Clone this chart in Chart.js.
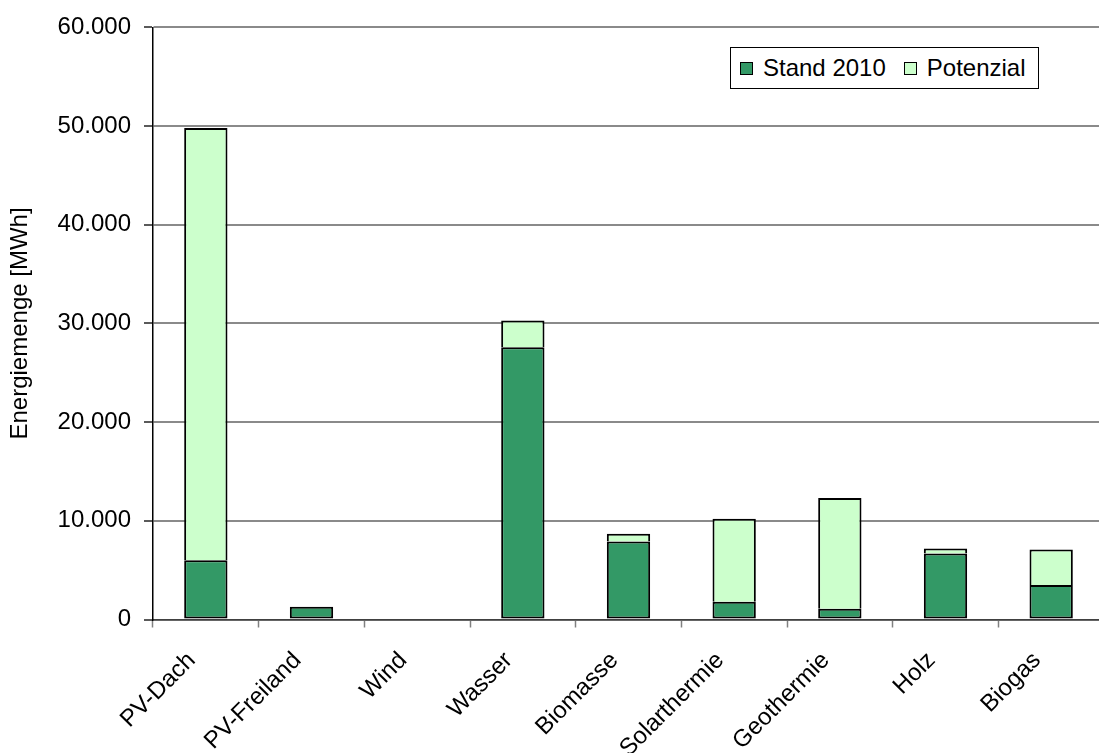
<!DOCTYPE html>
<html lang="de">
<head>
<meta charset="utf-8">
<title>Energiemenge</title>
<script src="https://cdn.jsdelivr.net/npm/chart.js@4/dist/chart.umd.min.js"></script>
<style>
    html, body {
        margin: 0;
        padding: 0;
        background: #fff;
        overflow: hidden;
    }
    #wrap {
        position: relative;
        width: 1110px;
        height: 753px;
    }
    #legend {
        position: absolute;
        left: 730px;
        top: 47px;
        width: 309px;
        height: 42px;
        box-sizing: border-box;
        border: 1px solid #000;
        background: #fff;
        display: flex;
        align-items: center;
        padding-left: 9px;
        white-space: nowrap;
        font-family: "Liberation Sans", Arial, sans-serif;
        font-size: 24px;
        color: #000;
    }
    #legend .box {
        flex: 0 0 13px;
        width: 13px;
        height: 13px;
        box-sizing: border-box;
        border: 1px solid #000;
        margin-right: 10px;
    }
    #legend .label {
        flex: 0 0 auto;
        margin-right: 18px;
        line-height: 1;
    }
</style>
</head>
<body>
<div id="wrap">
    <canvas id="chart"></canvas>
    <div id="legend"></div>
</div>
<script>
const categories = ['PV-Dach', 'PV-Freiland', 'Wind', 'Wasser', 'Biomasse', 'Solarthermie', 'Geothermie', 'Holz', 'Biogas'];
const stand2010 = [6000, 1300, 0, 27600, 7900, 1800, 1100, 6700, 3500];
const potenzial = [43800, 0, 0, 2700, 800, 8400, 11200, 500, 3600];
const yTicks = [0, 10000, 20000, 30000, 40000, 50000, 60000];

const seriesNames = ['Stand 2010', 'Potenzial'];
const seriesColors = ['#339966', '#ccffcc'];

const FONT = '"Liberation Sans", Arial, sans-serif';

// Tausenderpunkt wie in der deutschen Schreibweise
function formatNumber(v) {
    return String(v).replace(/\B(?=(\d{3})+(?!\d))/g, '.');
}

// Legende als HTML-Kasten oben rechts im Diagramm
function renderLegend() {
    const legend = document.getElementById('legend');
    seriesNames.forEach(function (name, i) {
        const box = document.createElement('span');
        box.className = 'box';
        box.style.background = seriesColors[i];
        const label = document.createElement('span');
        label.className = 'label';
        label.textContent = name;
        legend.appendChild(box);
        legend.appendChild(label);
    });
}

function renderChart() {
    const ctx = document.getElementById('chart').getContext('2d');

    const barStyle = {
        borderColor: '#000',
        borderWidth: 2,
        categoryPercentage: 1.0,
        barPercentage: 0.41,
    };

    new Chart(ctx, {
        type: 'bar',
        data: {
            labels: categories,
            datasets: [
                // untere Balken mit vollem Rahmen, obere ohne Unterkante (sonst doppelte Trennlinie)
                Object.assign({ label: seriesNames[0], data: stand2010, backgroundColor: seriesColors[0], borderSkipped: false }, barStyle),
                Object.assign({ label: seriesNames[1], data: potenzial, backgroundColor: seriesColors[1], borderSkipped: 'start' }, barStyle),
            ],
        },
        options: {
            responsive: true,
            maintainAspectRatio: false,
            animation: false,
            layout: {
                padding: { left: 0, right: 6, top: 24, bottom: 0 },
            },
            plugins: {
                legend: { display: false },
                tooltip: { enabled: false },
            },
            scales: {
                x: {
                    stacked: true,
                    offset: true,
                    afterFit: function (scale) {
                        scale.height = 133.5;
                    },
                    grid: {
                        offset: true,
                        drawOnChartArea: false,
                        drawTicks: true,
                        tickLength: 8,
                        tickColor: '#808080',
                        tickWidth: 1.5,
                    },
                    border: { color: '#404040', width: 1.5 },
                    ticks: {
                        autoSkip: false,
                        minRotation: 45,
                        maxRotation: 45,
                        padding: 19,
                        labelOffset: -14,
                        color: '#000',
                        font: { family: FONT, size: 24 },
                    },
                },
                y: {
                    stacked: true,
                    min: 0,
                    max: 60000,
                    afterFit: function (scale) {
                        scale.width = 153;
                    },
                    afterBuildTicks: function (scale) {
                        scale.ticks = yTicks.map(function (v) { return { value: v }; });
                    },
                    grid: {
                        color: '#8a8a8a',
                        lineWidth: 2,
                        tickLength: 9,
                        tickColor: '#000',
                        tickWidth: 1.3,
                    },
                    border: { color: '#000', width: 1.5 },
                    ticks: {
                        padding: 13,
                        color: '#000',
                        font: { family: FONT, size: 24 },
                        callback: function (value) {
                            return formatNumber(value);
                        },
                    },
                    title: {
                        display: true,
                        text: 'Energiemenge [MWh]',
                        color: '#000',
                        font: { family: FONT, size: 24 },
                        padding: { top: 6, bottom: 0 },
                    },
                },
            },
        },
    });
}

renderLegend();
renderChart();
</script>
</body>
</html>
